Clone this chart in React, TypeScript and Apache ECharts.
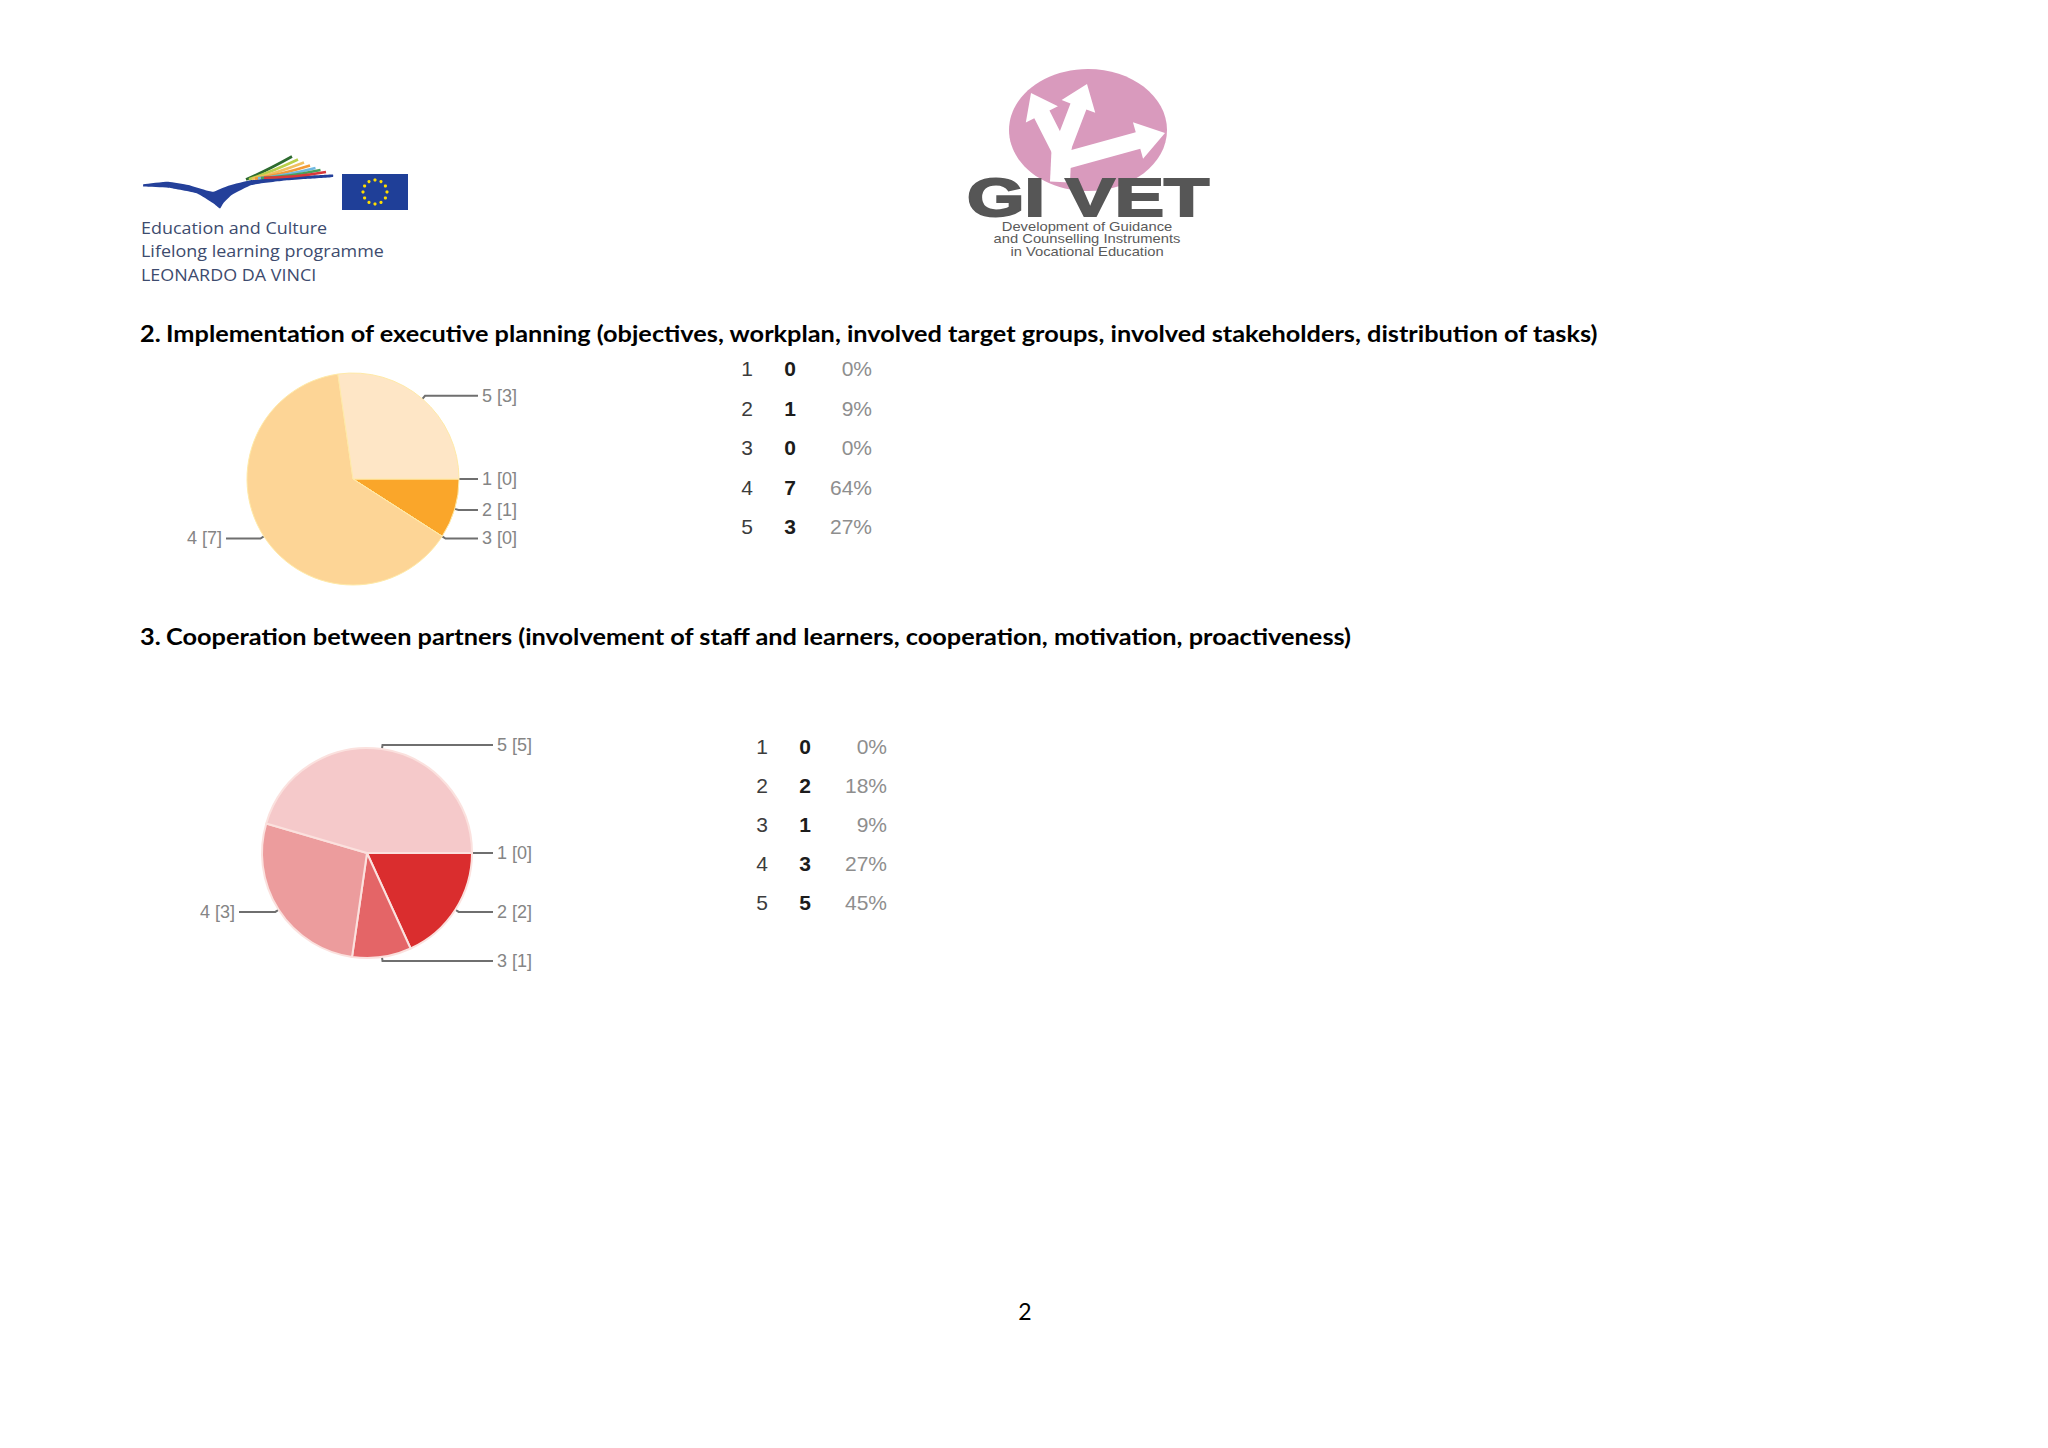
import React, { useEffect, useRef } from "react";
import * as echarts from "echarts";

// ---------- data ----------
const RATINGS = ["1", "2", "3", "4", "5"];

const Q2_NUMBER = "2.";
const Q2_TITLE =
  "Implementation of executive planning (objectives, workplan, involved target groups, involved stakeholders, distribution of tasks)";
const Q2_COUNTS = [0, 1, 0, 7, 3];
const Q2_PERCENTS = ["0%", "9%", "0%", "64%", "27%"];
const Q2_COLORS = ["#f8b040", "#faa62a", "#fbc468", "#fdd596", "#fee6c6"];

const Q3_NUMBER = "3.";
const Q3_TITLE =
  "Cooperation between partners (involvement of staff and learners, cooperation, motivation, proactiveness)";
const Q3_COUNTS = [0, 2, 1, 3, 5];
const Q3_PERCENTS = ["0%", "18%", "9%", "27%", "45%"];
const Q3_COLORS = ["#c42222", "#da2d2e", "#e46567", "#ec9c9d", "#f5c9ca"];

const EU_LINES = ["Education and Culture", "Lifelong learning programme", "LEONARDO DA VINCI"];
const GIVET_NAME = "GI VET";
const GIVET_LINES = ["Development of Guidance", "and Counselling Instruments", "in Vocational Education"];
const PAGE_NUMBER = "2";

const STRAND_COLORS = ["#2d6b2f", "#b9d04a", "#f0c060", "#f29b38", "#6fb8e0", "#4aa05a", "#d9383a"];

// ---------- helpers ----------
function arrowPoints(x0: number, y0: number, x1: number, y1: number, sw: number, hw: number, hl: number) {
  const dx = x1 - x0;
  const dy = y1 - y0;
  const L = Math.hypot(dx, dy);
  const ux = dx / L;
  const uy = dy / L;
  const px = -uy;
  const py = ux;
  const bx = x1 - ux * hl;
  const by = y1 - uy * hl;
  return [
    [x0 + (px * sw) / 2, y0 + (py * sw) / 2],
    [bx + (px * sw) / 2, by + (py * sw) / 2],
    [bx + (px * hw) / 2, by + (py * hw) / 2],
    [x1, y1],
    [bx - (px * hw) / 2, by - (py * hw) / 2],
    [bx - (px * sw) / 2, by - (py * sw) / 2],
    [x0 - (px * sw) / 2, y0 - (py * sw) / 2],
  ];
}

function pieSeries(
  id: string,
  counts: number[],
  colors: string[],
  box: { left: number; top: number; width: number; height: number },
  center: number[],
  radius: number,
  borderColor: string,
  borderWidth: number
) {
  return {
    type: "pie",
    id,
    left: box.left,
    top: box.top,
    width: box.width,
    height: box.height,
    center,
    radius,
    startAngle: 0,
    clockwise: true,
    silent: true,
    avoidLabelOverlap: true,
    data: RATINGS.map((n, i) => ({ name: n, value: counts[i], itemStyle: { color: colors[i] } })),
    itemStyle: { borderColor, borderWidth },
    label: {
      show: true,
      position: "outside",
      formatter: "{b} [{c}]",
      color: "#858585",
      fontSize: 18,
      fontFamily: "Liberation Sans, Arial, sans-serif",
      alignTo: "edge",
      edgeDistance: 0,
      distanceToLabelLine: 4,
    },
    labelLine: {
      show: true,
      length: 4,
      length2: 5,
      lineStyle: { color: "#6f6f6f", width: 2 },
    },
    emphasis: { disabled: true },
  };
}

export default function App() {
  const ref = useRef<HTMLDivElement>(null);

  useEffect(() => {
    document.body.style.margin = "0";
    if (!ref.current) return;
    const chart = echarts.init(ref.current, undefined, { renderer: "svg" });

    const ctx = document.createElement("canvas").getContext("2d") as CanvasRenderingContext2D;
    const textWidth = (t: string, font: string) => {
      ctx.font = font;
      return ctx.measureText(t).width;
    };

    const titleFont = "bold 23px Lato";
    const q2Scale = 1434 / textWidth(Q2_TITLE, titleFont);
    const q3Scale = 1187 / textWidth(Q3_TITLE, titleFont);
    const euScale = 243 / textWidth(EU_LINES[1], "17px 'Open Sans'");
    const givetScale = 242 / textWidth(GIVET_NAME, "bold 53px 'Liberation Sans'");
    const givetSubScale = 187 / textWidth(GIVET_LINES[1], "13px 'Liberation Sans'");

    const elements: any[] = [];

    // ---- EU / Leonardo logo ----
    const swoosh = [
      [143.3, 184.3], [168.3, 181.7], [188.3, 185], [205, 190], [213.3, 191.7], [228.3, 185.7], [251.7, 180],
      [285, 176.7], [321.7, 175], [333, 174.5],
      [333, 177], [305, 179], [285, 180.5], [251.7, 185], [231.7, 195], [223.3, 203.3], [220, 208.5],
      [213.3, 203.3], [196.7, 193.3], [168.3, 187.7], [143.3, 186.5],
    ];
    elements.push({ type: "polygon", shape: { points: swoosh, smooth: 0.15 }, style: { fill: "#24409a" }, silent: true });
    const strandEnds = [[292, 156.5], [298, 159.5], [304, 162.5], [310, 165.5], [315.5, 168], [320.5, 170], [326, 172]];
    strandEnds.forEach((e, i) => {
      const sx = 246 + i * 3;
      const sy = 179.5 - i * 0.3;
      elements.push({
        type: "bezierCurve",
        shape: { x1: sx, y1: sy, cpx1: (sx + e[0]) / 2 - 3, cpy1: (sy + e[1]) / 2 + 3, x2: e[0], y2: e[1] },
        style: { stroke: STRAND_COLORS[i], lineWidth: 2.6, fill: "none" },
        silent: true,
      });
    });
    elements.push({ type: "rect", shape: { x: 342, y: 174, width: 66, height: 36 }, style: { fill: "#1f3f98" }, silent: true });
    for (let k = 0; k < 12; k++) {
      const a = (k * Math.PI) / 6;
      elements.push({
        type: "circle",
        shape: { cx: 375 + 12 * Math.cos(a), cy: 192 + 12 * Math.sin(a), r: 1.6 },
        style: { fill: "#ffdd00" },
        silent: true,
      });
    }
    EU_LINES.forEach((t, i) => {
      elements.push({
        type: "text",
        x: 141,
        y: 227 + i * 23.5,
        scaleX: euScale,
        style: { text: t, x: 0, y: 0, fontFamily: "Open Sans", fontSize: 17, fill: "#3d4b6e", align: "left", verticalAlign: "middle" },
        silent: true,
      });
    });

    // ---- GI VET logo ----
    elements.push({ type: "ellipse", shape: { cx: 1088, cy: 130, rx: 79, ry: 61 }, style: { fill: "#d99abd" }, silent: true });
    const arrows = [
      arrowPoints(1060, 182, 1062, 140, 20, 20, 0.1),
      arrowPoints(1063, 156, 1031, 93, 17, 36, 24),
      arrowPoints(1061, 152, 1087, 84, 17, 36, 24),
      arrowPoints(1060, 162, 1165, 133, 17, 38, 28),
    ];
    arrows.forEach((pts) =>
      elements.push({ type: "polygon", shape: { points: pts }, style: { fill: "#ffffff" }, silent: true })
    );
    elements.push({
      type: "text",
      x: 967,
      y: 198,
      scaleX: givetScale,
      style: {
        text: GIVET_NAME, x: 0, y: 0, fontFamily: "Liberation Sans", fontWeight: "bold", fontSize: 53,
        fill: "#565656", stroke: "#565656", lineWidth: 2, align: "left", verticalAlign: "middle",
      },
      silent: true,
    });
    GIVET_LINES.forEach((t, i) => {
      elements.push({
        type: "text",
        x: 1087,
        y: 226 + i * 12.8,
        scaleX: givetSubScale,
        style: { text: t, x: 0, y: 0, fontFamily: "Liberation Sans", fontSize: 13, fill: "#5a5a5a", align: "center", verticalAlign: "middle" },
        silent: true,
      });
    });

    // ---- titles ----
    const titles = [
      { num: Q2_NUMBER, text: Q2_TITLE, y: 333, scale: q2Scale },
      { num: Q3_NUMBER, text: Q3_TITLE, y: 636, scale: q3Scale },
    ];
    titles.forEach((t) => {
      elements.push({
        type: "text",
        x: 140,
        y: t.y,
        scaleX: t.scale,
        style: { text: t.num, x: 0, y: 0, fontFamily: "Lato", fontWeight: "bold", fontSize: 23, fill: "#000", align: "left", verticalAlign: "middle" },
        silent: true,
      });
      elements.push({
        type: "text",
        x: 166,
        y: t.y,
        scaleX: t.scale,
        style: { text: t.text, x: 0, y: 0, fontFamily: "Lato", fontWeight: "bold", fontSize: 23, fill: "#000", align: "left", verticalAlign: "middle" },
        silent: true,
      });
    });

    // ---- tables ----
    const tables = [
      { counts: Q2_COUNTS, pct: Q2_PERCENTS, c1: 747, c2: 790, c3: 872, y0: 368.5, dy: 39.6 },
      { counts: Q3_COUNTS, pct: Q3_PERCENTS, c1: 762, c2: 805, c3: 887, y0: 746, dy: 39.2 },
    ];
    tables.forEach((tb) => {
      RATINGS.forEach((r, i) => {
        const y = tb.y0 + i * tb.dy;
        elements.push({
          type: "text",
          style: { text: r, x: tb.c1, y, fontFamily: "Liberation Sans", fontSize: 21, fill: "#3c3c3c", align: "center", verticalAlign: "middle" },
          silent: true,
        });
        elements.push({
          type: "text",
          style: { text: String(tb.counts[i]), x: tb.c2, y, fontFamily: "Liberation Sans", fontWeight: "bold", fontSize: 21, fill: "#1c1c1c", align: "center", verticalAlign: "middle" },
          silent: true,
        });
        elements.push({
          type: "text",
          style: { text: tb.pct[i], x: tb.c3, y, fontFamily: "Liberation Sans", fontSize: 21, fill: "#8e8e8e", align: "right", verticalAlign: "middle" },
          silent: true,
        });
      });
    });

    // ---- page number ----
    elements.push({
      type: "text",
      style: { text: PAGE_NUMBER, x: 1025, y: 1311, fontFamily: "Lato", fontSize: 23, fill: "#000", align: "center", verticalAlign: "middle" },
      silent: true,
    });

    chart.setOption({
      animation: false,
      backgroundColor: "#ffffff",
      series: [
        pieSeries("q2", Q2_COUNTS, Q2_COLORS, { left: 187, top: 300, width: 330, height: 360 }, [166, 179], 106, "#ffeaa8", 1),
        pieSeries("q3", Q3_COUNTS, Q3_COLORS, { left: 200, top: 680, width: 332, height: 360 }, [167, 173], 105, "#fbe1de", 2),
      ],
      graphic: { elements },
    });

    return () => {
      chart.dispose();
    };
  }, []);

  return <div ref={ref} style={{ width: 2048, height: 1448 }} />;
}
